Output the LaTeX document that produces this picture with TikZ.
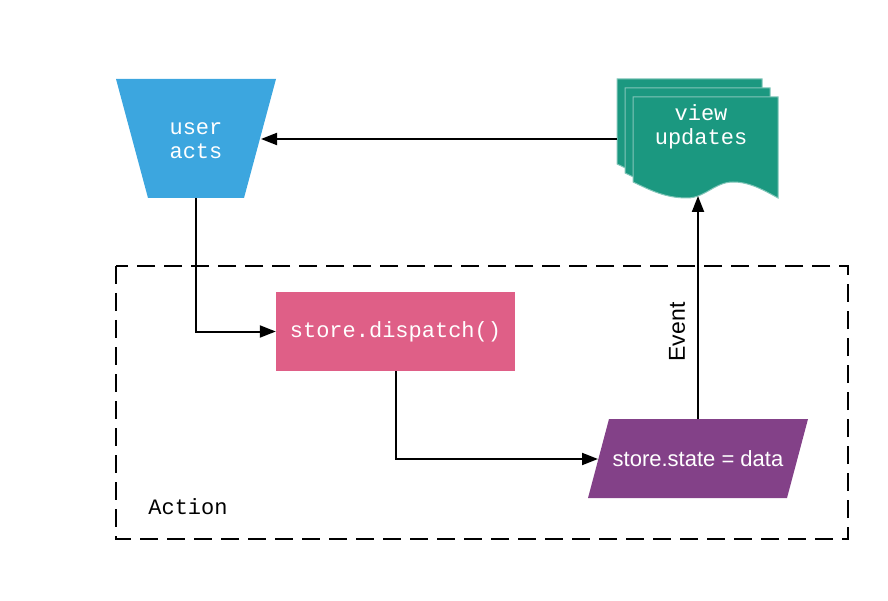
\documentclass[tikz,border=0pt]{standalone}
\usepackage{fontspec}
\setmainfont{Liberation Sans}
\setmonofont{Liberation Mono}
\usepackage{tikz}
\usetikzlibrary{arrows.meta}
\usetikzlibrary{positioning}
\definecolor{actsblue}{HTML}{3CA6DF}
\definecolor{viewteal}{HTML}{1B9880}
\definecolor{storepink}{HTML}{DF5F87}
\definecolor{statepurple}{HTML}{834188}
\tikzset{
  arr/.style={line width=2pt, -{Triangle[length=16pt,width=12pt]}},
  monotext/.style={font=\fontsize{22}{24}\selectfont\ttfamily, text=white, align=center},
  page/.style={fill=viewteal, draw=viewteal!55!white, line width=1pt}
}

\begin{document}
\begin{tikzpicture}[x=1pt,y=-1pt]
\useasboundingbox (0,0) rectangle (888,601);
\draw[line width=2pt, dash pattern=on 18pt off 9pt] (116,266) rectangle (848,539);
\node[font=\fontsize{22}{24}\selectfont\ttfamily] (action) at (188,507) {Action};
\fill[actsblue] (116,79)--(276,79)--(244,198)--(148,198)--cycle;
\node[monotext] (user) at (196,141) {user\\acts};
\coordinate (userright) at (261,139);
\coordinate (userbot) at (196,198);
\filldraw[page, shift={(-16,-18)}] (633,97)--(778,97)--(778,198)
  .. controls (760,188) and (748,182) .. (733,182)
  .. controls (715,182) and (705,198) .. (687,198)
  .. controls (665,198) and (650,190) .. (633,182)--cycle;
\filldraw[page, shift={(-8,-9)}] (633,97)--(778,97)--(778,198)
  .. controls (760,188) and (748,182) .. (733,182)
  .. controls (715,182) and (705,198) .. (687,198)
  .. controls (665,198) and (650,190) .. (633,182)--cycle;
\filldraw[page] (633,97)--(778,97)--(778,198)
  .. controls (760,188) and (748,182) .. (733,182)
  .. controls (715,182) and (705,198) .. (687,198)
  .. controls (665,198) and (650,190) .. (633,182)--cycle;
\node[monotext] (view) at (701,127) {view\\updates};
\coordinate (viewleft) at (617,139);
\coordinate (viewbot) at (698,196);
\node[rectangle, minimum width=239pt, minimum height=79pt, inner sep=0pt,
  fill=storepink, monotext] (dispatch) at (395.5,331.5) {store.dispatch()};
\fill[statepurple] (609,419)--(808,419)--(787,498)--(588,498)--cycle;
\node[text=white, font=\fontsize{22}{24}\selectfont] (state) at (698,458.5) {store.state = data};
\coordinate (stateleft) at (598,459);
\coordinate (statetop) at (698,419);
\draw[arr] (viewleft) -- (userright);
\draw[arr] (userbot) |- (dispatch.west);
\draw[arr] (dispatch.south) |- (stateleft);
\draw[arr] (statetop) -- (viewbot);
\node[rotate=90, font=\fontsize{23}{24}\selectfont] (event) at (677,332) {Event};
\end{tikzpicture}
\end{document}
